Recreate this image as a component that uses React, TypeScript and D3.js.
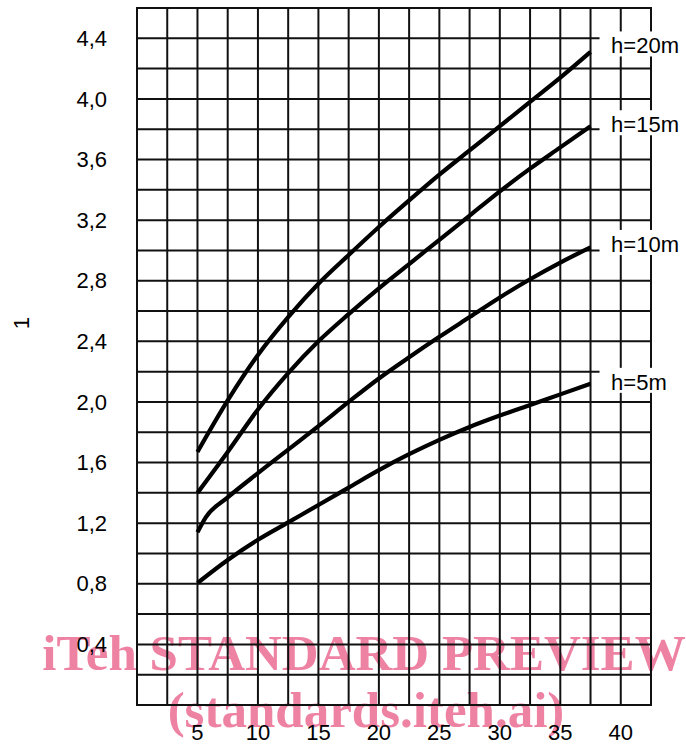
import * as d3 from 'd3'
import { useEffect, useRef } from 'react'

// values (x: distance, y: factor)
const xCommon = [5, 7.5, 10, 12.5, 15, 17.5, 20, 22.5, 25, 27.5, 30, 32.5, 35, 37.5]
const h20 = [1.67, 2.01, 2.31, 2.56, 2.78, 2.97, 3.155, 3.33, 3.5, 3.66, 3.82, 3.98, 4.14, 4.31]
const h15 = [1.4, 1.67, 1.95, 2.19, 2.4, 2.58, 2.75, 2.91, 3.07, 3.23, 3.39, 3.54, 3.68, 3.82]
const xH10 = [5, 5.7, 7.5, 10, 12.5, 15, 17.5, 20, 22.5, 25, 27.5, 30, 32.5, 35, 37.5]
const h10 = [1.14, 1.24, 1.37, 1.53, 1.685, 1.84, 2.0, 2.155, 2.295, 2.43, 2.56, 2.69, 2.81, 2.92, 3.02]
const h5 = [0.805, 0.957, 1.09, 1.205, 1.32, 1.435, 1.55, 1.655, 1.75, 1.835, 1.91, 1.98, 2.05, 2.12]

const seriesNames = ['h=20m', 'h=15m', 'h=10m', 'h=5m']
const labelY = [4.3, 3.78, 2.99, 2.08]

const xTicks = [5, 10, 15, 20, 25, 30, 35, 40]
const yTicks = [0.4, 0.8, 1.2, 1.6, 2.0, 2.4, 2.8, 3.2, 3.6, 4.0, 4.4]
const yAxisTitle = '1'

const watermark1 = 'iTeh STANDARD PREVIEW'
const watermark2 = '(standards.iteh.ai)'

const App = () => {
  const svgRef = useRef<SVGSVGElement>(null)

  useEffect(() => {
    const width = 686
    const height = 747
    const svg = d3.select(svgRef.current)
    svg.selectAll('*').remove()

    const x = d3.scaleLinear().domain([0, 42.5]).range([137, 651])
    const y = d3.scaleLinear().domain([0, 4.6]).range([705, 8])

    svg.append('rect').attr('width', width).attr('height', height).attr('fill', 'white')

    // pink watermark sits under the ink
    const wm = svg
      .append('g')
      .attr('fill', '#ee82a3')
      .attr('font-family', '"Liberation Serif", "Times New Roman", serif')
      .attr('font-weight', 'bold')
      .attr('font-size', 51)
      .attr('text-anchor', 'middle')
    wm.append('text').attr('x', 364).attr('y', 670).text(watermark1)
    wm.append('text').attr('x', 366).attr('y', 727).text(watermark2)

    // grid: every 2.5 on x, every 0.2 on y
    const gx = d3.range(0, 42.5 + 0.01, 2.5)
    const gy = d3.range(0, 23 + 1).map((i) => i * 0.2)
    const grid = svg.append('g').attr('stroke', '#111').attr('stroke-width', 2)
    grid
      .selectAll('line.v')
      .data(gx)
      .enter()
      .append('line')
      .attr('x1', (d) => x(d))
      .attr('x2', (d) => x(d))
      .attr('y1', y(0))
      .attr('y2', y(4.6))
    grid
      .selectAll('line.h')
      .data(gy)
      .enter()
      .append('line')
      .attr('x1', x(0) - 1)
      .attr('x2', x(42.5) + 1)
      .attr('y1', (d) => y(d))
      .attr('y2', (d) => y(d))

    // curves
    const series = [
      { name: seriesNames[0], xs: xCommon, ys: h20 },
      { name: seriesNames[1], xs: xCommon, ys: h15 },
      { name: seriesNames[2], xs: xH10, ys: h10 },
      { name: seriesNames[3], xs: xCommon, ys: h5 },
    ]
    const line = d3
      .line<[number, number]>()
      .x((d) => x(d[0]))
      .y((d) => y(d[1]))
      .curve(d3.curveMonotoneX)
    svg
      .selectAll('path.curve')
      .data(series)
      .enter()
      .append('path')
      .attr('d', (s) => line(s.xs.map((v, i) => [v, s.ys[i]] as [number, number])))
      .attr('fill', 'none')
      .attr('stroke', '#000')
      .attr('stroke-width', 4.2)

    // series labels with white boxes cutting the grid
    const labels = svg
      .append('g')
      .attr('font-family', '"Liberation Sans", Arial, sans-serif')
      .attr('font-size', 22)
    series.forEach((s, i) => {
      const by = y(labelY[i])
      labels
        .append('rect')
        .attr('x', x(37.5) + 9)
        .attr('y', by - 22)
        .attr('width', 90)
        .attr('height', 25)
        .attr('fill', 'white')
      labels
        .append('text')
        .attr('x', x(39.2))
        .attr('y', by)
        .attr('fill', '#000')
        .text(s.name)
    })

    // tick labels
    const txt = svg
      .append('g')
      .attr('font-family', '"Liberation Sans", Arial, sans-serif')
      .attr('font-size', 22)
      .attr('fill', '#000')
    txt
      .selectAll('text.y')
      .data(yTicks)
      .enter()
      .append('text')
      .attr('x', 107)
      .attr('y', (d) => y(d))
      .attr('dy', '0.35em')
      .attr('text-anchor', 'end')
      .text((d) => d.toFixed(1).replace('.', ','))
    txt
      .selectAll('text.x')
      .data(xTicks)
      .enter()
      .append('text')
      .attr('x', (d) => x(d))
      .attr('y', 740)
      .attr('text-anchor', 'middle')
      .text((d) => d)
    txt
      .append('text')
      .attr('transform', 'translate(29,' + y(2.52) + ') rotate(-90)')
      .attr('text-anchor', 'middle')
      .text(yAxisTitle)
  }, [])

  return (
    <svg
      ref={svgRef}
      width={686}
      height={747}
      style={{ position: 'absolute', left: 0, top: 0 }}
    ></svg>
  )
}

export default App
